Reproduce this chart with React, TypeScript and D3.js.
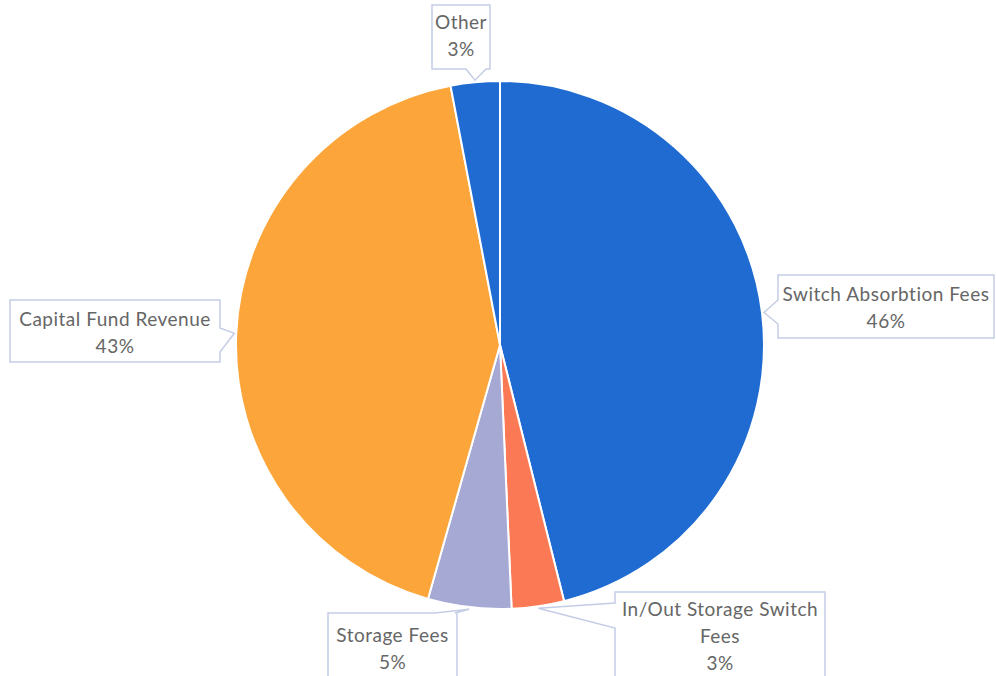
import React from "react";
import * as d3 from "d3";

const categories = [
  "Switch Absorbtion Fees",
  "In/Out Storage Switch Fees",
  "Storage Fees",
  "Capital Fund Revenue",
  "Other",
];
const values = [46.1, 3.2, 5.1, 42.6, 3.0];
const percentLabels = ["46%", "3%", "5%", "43%", "3%"];
const colors = ["#1f6bd1", "#fb7a55", "#a6a9d4", "#fca53a", "#1f6bd1"];
const labelLines = [
  ["Switch Absorbtion Fees"],
  ["In/Out Storage Switch", "Fees"],
  ["Storage Fees"],
  ["Capital Fund Revenue"],
  ["Other"],
];

type Box = { x: number; y: number; w: number; h: number; side: string; b1: number; b2: number; ty: number };
const boxes: Box[] = [
  { x: 778, y: 275, w: 216, h: 63, side: "left", b1: 300, b2: 324, ty: 296 },
  { x: 615, y: 592, w: 210, h: 110, side: "left", b1: 603, b2: 628, ty: 611 },
  { x: 328, y: 613, w: 129, h: 90, side: "top", b1: 435, b2: 455, ty: 637 },
  { x: 10, y: 300, w: 210, h: 62, side: "right", b1: 328, b2: 352, ty: 321 },
  { x: 432, y: 5, w: 58, h: 64, side: "bottom", b1: 466, b2: 486, ty: 24 },
];

function boxPath(b: Box, tx: number, ty: number) {
  const { x, y, w, h, side, b1, b2 } = b;
  const r = x + w, bt = y + h;
  const p: string[] = [`M${x},${y}`];
  if (side === "top") p.push(`L${b1},${y}L${tx},${ty}L${b2},${y}`);
  p.push(`L${r},${y}`);
  if (side === "right") p.push(`L${r},${b1}L${tx},${ty}L${r},${b2}`);
  p.push(`L${r},${bt}`);
  if (side === "bottom") p.push(`L${b2},${bt}L${tx},${ty}L${b1},${bt}`);
  p.push(`L${x},${bt}`);
  if (side === "left") p.push(`L${x},${b2}L${tx},${ty}L${x},${b1}`);
  p.push("Z");
  return p.join("");
}

export default function App() {
  const width = 996, height = 676;
  const cx = 500, cy = 345, R = 264;
  const pie = d3.pie<number>().sort(null).value((d) => d)(values);
  const arc = d3.arc<d3.PieArcDatum<number>>().innerRadius(0).outerRadius(R);
  const lineH = 27;
  return (
    <svg width={width} height={height} style={{ position: "absolute", left: 0, top: 0, background: "#fff" }}>
      <g transform={`translate(${cx},${cy})`}>
        {pie.map((d, i) => (
          <path key={i} d={arc(d) || ""} fill={colors[i]} stroke="#fff" strokeWidth={2} />
        ))}
      </g>
      {pie.map((d, i) => {
        const a = (d.startAngle + d.endAngle) / 2;
        const tx = cx + (R + 2) * Math.sin(a);
        const ty = cy - (R + 2) * Math.cos(a);
        const b = boxes[i];
        const lines = [...labelLines[i], percentLabels[i]];
        return (
          <g key={"l" + i}>
            <path d={boxPath(b, tx, ty)} fill="#fff" stroke="#c5cde6" strokeWidth={1.5} />
            {lines.map((t, j) => (
              <text
                key={j}
                x={b.x + b.w / 2}
                y={b.ty + j * lineH}
                textAnchor="middle"
                dominantBaseline="middle"
                fontFamily="Lato, 'Open Sans', sans-serif"
                fontSize={19}
                letterSpacing={0.5}
                fill="#666"
              >
                {t}
              </text>
            ))}
          </g>
        );
      })}
    </svg>
  );
}
